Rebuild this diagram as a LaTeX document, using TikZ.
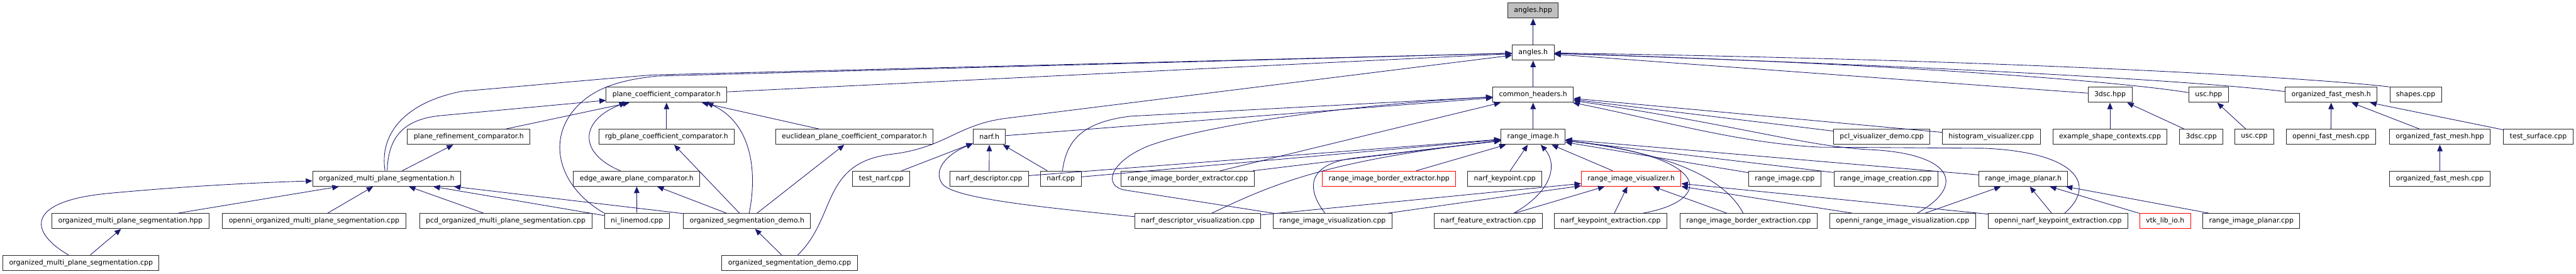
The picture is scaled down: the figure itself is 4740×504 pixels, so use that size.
\documentclass[tikz,border=0pt]{standalone}
\usepackage{fontspec}
\setmainfont{DejaVu Sans}
\usetikzlibrary{arrows.meta}
\definecolor{navy}{HTML}{191970}
\definecolor{focusgray}{HTML}{BFBFBF}

\begin{document}
\begin{tikzpicture}[
x=1pt, y=-1pt,
every node/.style={font=\fontsize{12.7}{15}\selectfont},
box/.style={draw=black!85, fill=white, line width=1.1pt, inner xsep=11.5pt, inner ysep=0pt, minimum height=28pt},
focus/.style={box, fill=focusgray},
missing/.style={box, draw=red},
dep/.style={draw=navy, line width=1pt, -{Triangle[length=12pt,width=10pt]}}
]
\useasboundingbox (0,0) rectangle (4740,504);

\node[focus] (ahpp) at (2821,19.5) {angles.hpp};
\node[box] (ah) at (2821,97) {angles.h};

\node[box] (pcc) at (1226.5,174.5) {plane\_coefficient\_comparator.h};
\node[box] (ch) at (2821,174.5) {common\_headers.h};
\node[box] (tdsch) at (3882.5,174.5) {3dsc.hpp};
\node[box] (usch) at (4064,174.5) {usc.hpp};
\node[box] (ofmh) at (4289.5,174.5) {organized\_fast\_mesh.h};
\node[box] (shapes) at (4445,174.5) {shapes.cpp};

\node[box] (prc) at (862.5,252) {plane\_refinement\_comparator.h};
\node[box] (rgb) at (1226.5,252) {rgb\_plane\_coefficient\_comparator.h};
\node[box] (epcc) at (1572,252) {euclidean\_plane\_coefficient\_comparator.h};
\node[box] (narfh) at (1820.5,252) {narf.h};
\node[box] (rih) at (2821,252) {range\_image.h};
\node[box] (pvd) at (3462.5,252) {pcl\_visualizer\_demo.cpp};
\node[box] (hv) at (3664,252) {histogram\_visualizer.cpp};
\node[box] (esc) at (3882.5,252) {example\_shape\_contexts.cpp};
\node[box] (tdsc) at (4050.5,252) {3dsc.cpp};
\node[box] (usc) at (4148,252) {usc.cpp};
\node[box] (ofm) at (4289,252) {openni\_fast\_mesh.cpp};
\node[box] (ofmhpp) at (4489.5,252) {organized\_fast\_mesh.hpp};
\node[box] (ts) at (4670.5,252) {test\_surface.cpp};

\node[box] (omph) at (711.5,329) {organized\_multi\_plane\_segmentation.h};
\node[box] (eapc) at (1171.5,329) {edge\_aware\_plane\_comparator.h};
\node[box] (tn) at (1621.5,329) {test\_narf.cpp};
\node[box] (nd) at (1820,329) {narf\_descriptor.cpp};
\node[box] (ncpp) at (1952,329) {narf.cpp};
\node[box] (ribec) at (2185.5,329) {range\_image\_border\_extractor.cpp};
\node[missing] (ribehpp) at (2556,329) {range\_image\_border\_extractor.hpp};
\node[box] (nk) at (2769,329) {narf\_keypoint.cpp};
\node[missing] (rivh) at (3001.5,329) {range\_image\_visualizer.h};
\node[box] (ricpp) at (3284,329) {range\_image.cpp};
\node[box] (ric) at (3470,329) {range\_image\_creation.cpp};
\node[box] (riph) at (3723,329) {range\_image\_planar.h};
\node[box] (ofmcpp) at (4489.5,329) {organized\_fast\_mesh.cpp};

\node[box] (omphpp) at (240,407) {organized\_multi\_plane\_segmentation.hpp};
\node[box] (oomps) at (578,407) {openni\_organized\_multi\_plane\_segmentation.cpp};
\node[box] (pomps) at (930.5,407) {pcd\_organized\_multi\_plane\_segmentation.cpp};
\node[box] (nlm) at (1172,407) {ni\_linemod.cpp};
\node[box] (osdh) at (1374.5,407) {organized\_segmentation\_demo.h};
\node[box] (ndv) at (2204,407) {narf\_descriptor\_visualization.cpp};
\node[box] (riv) at (2452,407) {range\_image\_visualization.cpp};
\node[box] (nfe) at (2738.5,407) {narf\_feature\_extraction.cpp};
\node[box] (nke) at (2963.5,407) {narf\_keypoint\_extraction.cpp};
\node[box] (ribe) at (3217.5,407) {range\_image\_border\_extraction.cpp};
\node[box] (oriv) at (3501,407) {openni\_range\_image\_visualization.cpp};
\node[box] (onke) at (3787,407) {openni\_narf\_keypoint\_extraction.cpp};
\node[missing] (vtk) at (3984,407) {vtk\_lib\_io.h};
\node[box] (ripcpp) at (4142.5,407) {range\_image\_planar.cpp};

\node[box] (ompcpp) at (149,484) {organized\_multi\_plane\_segmentation.cpp};
\node[box] (osdcpp) at (1453,484) {organized\_segmentation\_demo.cpp};

\draw[dep] (ah) -- (ahpp);
\draw[dep] (ch) -- (ah);
\draw[dep] (rih) -- (ch);
\draw[dep] (pcc) -- (ah);
\draw[dep] ([xshift=-3pt]omph.north) .. controls (698,250) and (740,190) .. (850,168) .. controls (950,160) and (1050,150) .. (1200,138) -- (ah);
\draw[dep] (nlm.north west) .. controls (1020,340) and (1000,240) .. (1080,180) .. controls (1110,158) and (1150,146) .. (1210,140) -- (ah);
\draw[dep] ([xshift=15pt]osdcpp.north) .. controls (1540,400) and (1510,300) .. (1640,284) .. controls (1740,272) and (1760,230) .. (1850,218) -- (ah);
\draw[dep] (tdsch) -- (ah);
\draw[dep] ([yshift=4pt]usch.west) .. controls (3900,150) and (3500,118) .. (ah);
\draw[dep] ([yshift=6pt]ofmh.west) .. controls (4000,145) and (3500,120) .. (ah);
\draw[dep] (shapes.north west) .. controls (4300,148) and (3800,112) .. (ah);

\draw[dep] (narfh) -- (ch);
\draw[dep] ([xshift=3pt]ncpp.north) .. controls (1962,260) and (1990,225) .. (2080,214) -- (ch);
\draw[dep] (riv.north west) -- (2070,350) .. controls (2030,343) and (2040,300) .. (2110,270) .. controls (2200,235) and (2450,195) .. (ch);
\draw[dep] (ribec) -- (ch);
\draw[dep] (pvd) -- (ch);
\draw[dep] (hv) -- (ch);
\draw[dep] ([xshift=27pt]oriv.north) .. controls (3620,340) and (3590,285) .. (3450,276) .. controls (3330,272) and (3200,230) .. (ch);
\draw[dep] ([xshift=12pt]onke.north) .. controls (3860,340) and (3820,280) .. (3650,273) -- (3350,271) .. controls (3200,264) and (3050,220) .. (ch);

\draw[dep] (nd) -- (rih);
\draw[dep] (ncpp) -- (rih);
\draw[dep] (ribec) -- (rih);
\draw[dep] ([xshift=26pt]ndv.north) .. controls (2350,335) and (2450,295) .. (rih);
\draw[dep] ([xshift=-14pt]riv.north) .. controls (2405,350) and (2400,300) .. (2500,290) -- (rih);
\draw[dep] (ribehpp) -- (rih);
\draw[dep] (nk) -- (rih);
\draw[dep] ([xshift=47pt]nfe.north) .. controls (2860,350) and (2865,300) .. ([xshift=14pt]rih.south);
\draw[dep] (rivh) -- (rih);
\draw[dep] ([xshift=60pt]nke.north) .. controls (3150,370) and (3160,290) .. (rih);
\draw[dep] ([xshift=-10pt]ribe.north) .. controls (3180,340) and (3100,285) .. (rih);
\draw[dep] (ricpp) -- (rih);
\draw[dep] (ric) -- (rih);
\draw[dep] (riph) -- (rih);

\draw[dep] (ndv) -- (rivh);
\draw[dep] (riv) -- (rivh);
\draw[dep] (nfe) -- (rivh);
\draw[dep] (nke) -- (rivh);
\draw[dep] (ribe) -- (rivh);
\draw[dep] (oriv) -- (rivh);
\draw[dep] (onke) -- (rivh);

\draw[dep] (oriv) -- (riph);
\draw[dep] (onke) -- (riph);
\draw[dep] (vtk) -- (riph);
\draw[dep] (ripcpp) -- (riph);

\draw[dep] (nd) -- (narfh);
\draw[dep] (ncpp) -- (narfh);
\draw[dep] (tn) -- (narfh);
\draw[dep] ([yshift=8pt]ndv.west) .. controls (1900,380) and (1760,365) .. (1735,340) .. controls (1715,315) and (1740,285) .. (narfh);

\draw[dep] ([xshift=1pt]omph.north) .. controls (714,255) and (740,220) .. (810,213) -- (pcc);
\draw[dep] (prc) -- (pcc);
\draw[dep] (rgb) -- (pcc);
\draw[dep] (epcc) -- (pcc);
\draw[dep] ([xshift=-30pt]eapc.north) .. controls (1060,280) and (1070,220) .. ([xshift=-75pt]pcc.south);
\draw[dep] ([xshift=4pt]osdh.north) .. controls (1395,310) and (1380,225) .. ([xshift=74pt]pcc.south);

\draw[dep] (omph) -- (prc);
\draw[dep] (omphpp) -- (omph);
\draw[dep] (oomps) -- (omph);
\draw[dep] (pomps) -- (omph);
\draw[dep] (nlm) -- (omph);
\draw[dep] (osdh) -- (omph);
\draw[dep] ([xshift=-23pt]ompcpp.north) .. controls (50,425) and (50,370) .. (200,356) .. controls (350,342) and (480,336) .. (omph);
\draw[dep] (ompcpp) -- (omphpp);

\draw[dep] (nlm) -- (eapc);
\draw[dep] (osdh) -- (rgb);
\draw[dep] (osdh) -- (epcc);
\draw[dep] (osdh) -- (eapc);
\draw[dep] (osdcpp) -- (osdh);

\draw[dep] (esc) -- (tdsch);
\draw[dep] (tdsc) -- (tdsch);
\draw[dep] (usc) -- (usch);
\draw[dep] (ofm) -- (ofmh);
\draw[dep] (ofmhpp) -- (ofmh);
\draw[dep] (ts) -- (ofmh);
\draw[dep] (ofmcpp) -- (ofmhpp);
\end{tikzpicture}
\end{document}
